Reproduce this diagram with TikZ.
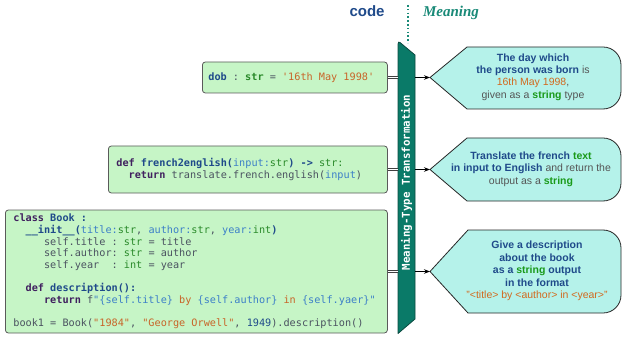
\documentclass[tikz,border=0pt]{standalone}
\usepackage{fontspec}
\setmainfont{Liberation Sans}
\setmonofont{DejaVu Sans Mono}
\newfontfamily\headserif{Liberation Serif}
\usetikzlibrary{arrows.meta}
\definecolor{kwpurple}{HTML}{40205F}
\definecolor{nameblue}{HTML}{1F4A8A}
\definecolor{parblue}{HTML}{3C7FC8}
\definecolor{typegreen}{HTML}{2A8A2A}
\definecolor{plaingrey}{HTML}{4A5260}
\definecolor{strorange}{HTML}{C86428}
\definecolor{cgrey}{HTML}{555555}
\definecolor{cgreen}{HTML}{1A9A1A}
\definecolor{corange}{HTML}{D2691E}
\definecolor{codefill}{HTML}{C6F5C6}
\definecolor{codeborder}{HTML}{5A5A5A}
\definecolor{callfill}{HTML}{B5F2EA}
\definecolor{barfill}{HTML}{0A7A68}
\definecolor{barborder}{HTML}{0A4A40}
\definecolor{tealtext}{HTML}{1A8A78}
\newcommand{\kw}[1]{\textbf{\color{kwpurple}{}#1}}
\newcommand{\nm}[1]{\textbf{\color{nameblue}{}#1}}
\newcommand{\nmr}[1]{{\color{nameblue}{}#1}}
\newcommand{\pa}[1]{{\color{parblue}{}#1}}
\newcommand{\ty}[1]{{\color{typegreen}{}#1}}
\newcommand{\tyb}[1]{\textbf{\color{typegreen}{}#1}}
\newcommand{\pl}[1]{{\color{plaingrey}{}#1}}
\newcommand{\cst}[1]{{\color{strorange}{}#1}}
\newcommand{\cb}[1]{\textbf{\color{nameblue}{}#1}}
\newcommand{\cg}[1]{{\color{cgrey}{}#1}}
\newcommand{\cgr}[1]{\textbf{\color{cgreen}{}#1}}
\newcommand{\co}[1]{{\color{corange}{}#1}}
\newcommand{\sx}{\phantom{x}}
\begin{document}
\begin{tikzpicture}[x=1pt,y=-1pt,
  codebox/.style={draw=codeborder, line width=0.8pt, fill=codefill, rounded corners=3pt,
    inner ysep=0pt, align=left, anchor=west, font=\ttfamily\fontsize{10.2}{11.7}\selectfont},
  callshape/.style={draw=black!85, line width=0.8pt, fill=callfill, line join=round},
  calltext/.style={align=center, font=\fontsize{10.5}{12.4}\selectfont},
  dbl/.style={draw=black!75, double=white, double distance=1.6pt, line width=0.6pt},
  arr/.style={draw=black, line width=0.8pt, -{Stealth[length=6pt,width=4.5pt]}}]
\useasboundingbox (0,0) rectangle (623,339);

% headers
\node[anchor=base, text=nameblue, font=\bfseries\fontsize{15}{18}\selectfont] (hcode) at (367,17) {code};
\node[anchor=base, text=tealtext, font=\headserif\bfseries\itshape\fontsize{15}{18}\selectfont] (hmean) at (451,17) {Meaning};
\coordinate (dtop) at (408,5);
\coordinate (dbot) at (408,43);
\draw[tealtext, line width=1.6pt, dash pattern=on 1.6pt off 2.2pt] (dtop) -- (dbot);

% bar
\draw[fill=barfill, draw=barborder, line width=0.8pt, line join=round]
  (398,44) .. controls (398,42) and (399,41.5) .. (400,42.5) -- (415,55) -- (415,319) -- (398,333.5) -- cycle;
\node[rotate=90, text=white, font=\ttfamily\bfseries\fontsize{10.8}{12}\selectfont] (bar) at (406.5,182.5) {Meaning-Type\sx Transformation};
\coordinate (barl) at (398,0);
\coordinate (barr) at (415,0);

% code boxes
\node[codebox, inner xsep=6pt, minimum width=185pt, minimum height=31pt, text width=173pt] (b1) at (202,77.5)
 {\nm{dob}\pl{\sx:\sx}\tyb{str}\pl{\sx=\sx}\cst{'16th\sx May\sx 1998'}};
\node[codebox, inner xsep=8pt, minimum width=279pt, minimum height=47pt, text width=263pt] (b2) at (108,169.5)
 {\kw{def}\sx\nm{french2english(}\pa{input:}\ty{str}\nm{)\sx->\sx}\ty{str:}\\
  \sx\sx\kw{return}\sx\pl{translate.french.english(}\pa{input}\pl{)}};
\node[codebox, inner xsep=8pt, minimum width=382pt, minimum height=123pt, text width=366pt] (b3) at (5,271.5)
 {\kw{class}\sx\nm{Book\sx:}\\
  \sx\sx\nm{\_\_init\_\_(}\pa{title:}\ty{str}\pl{,\sx}\pa{author:}\ty{str}\pl{,\sx}\pa{year:}\ty{int}\nm{)}\\
  \sx\sx\sx\sx\sx\pl{self.title\sx:\sx}\ty{str}\pl{\sx=\sx title}\\
  \sx\sx\sx\sx\sx\pl{self.author:\sx}\ty{str}\pl{\sx=\sx author}\\
  \sx\sx\sx\sx\sx\pl{self.year\sx\sx:\sx}\ty{int}\pl{\sx=\sx year}\\[11.7pt]
  \sx\sx\kw{def}\sx\nm{description():}\\
  \sx\sx\sx\sx\sx\kw{return}\sx\pl{f}\pa{"\{self.title\}}\cst{\sx by\sx}\pa{\{self.author\}}\cst{\sx in\sx}\pa{\{self.yaer\}"}\\[11.7pt]
  \pl{book1\sx=\sx Book(}\cst{"1984"}\pl{,\sx}\cst{"George\sx Orwell"}\pl{,\sx}\nmr{1949}\pl{).description()}};

% callouts
\coordinate (t1) at (430,77.5);
\coordinate (t2) at (430,169.5);
\coordinate (t3) at (430,271.5);
\draw[callshape] (t1) -- (467,47) -- (603,47) .. controls (613,47) and (621,55) .. (621,65)
  -- (621,91) .. controls (621,101) and (613,109) .. (603,109) -- (467,109) -- cycle;
\draw[callshape] (t2) -- (467,138) -- (603,138) .. controls (613,138) and (621,146) .. (621,156)
  -- (621,183) .. controls (621,193) and (613,201) .. (603,201) -- (467,201) -- cycle;
\draw[callshape] (t3) -- (468,230) -- (603,230) .. controls (613,230) and (621,238) .. (621,248)
  -- (621,295) .. controls (621,305) and (613,313) .. (603,313) -- (468,313) -- cycle;
\node[calltext] (m1) at (533,77)
 {\cb{The day which}\\\cb{the person was born}\cg{ is}\\\co{16th May 1998}\cg{,}\\\cg{given as a }\cgr{string}\cg{ type}};
\node[calltext] (m2) at (531,169)
 {\cb{Translate the french }\cgr{text}\\\cb{in input to English}\cg{ and return the}\\\cg{output as a }\cgr{string}};
\node[calltext] (m3) at (537,271)
 {\cb{Give a description}\\\cb{about the book}\\\cb{as a }\cgr{string}\cb{ output}\\\cb{in the format}\\\co{"<title> by <author> in <year>"}};

% connectors
\draw[dbl] (b1.east) -- (b1.east -| barl);
\draw[dbl] (b2.east) -- (b2.east -| barl);
\draw[dbl] (b3.east) -- (b3.east -| barl);
\draw[arr] (t1 -| barr) -- (t1);
\draw[arr] (t2 -| barr) -- (t2);
\draw[arr] (t3 -| barr) -- (t3);
\end{tikzpicture}
\end{document}
